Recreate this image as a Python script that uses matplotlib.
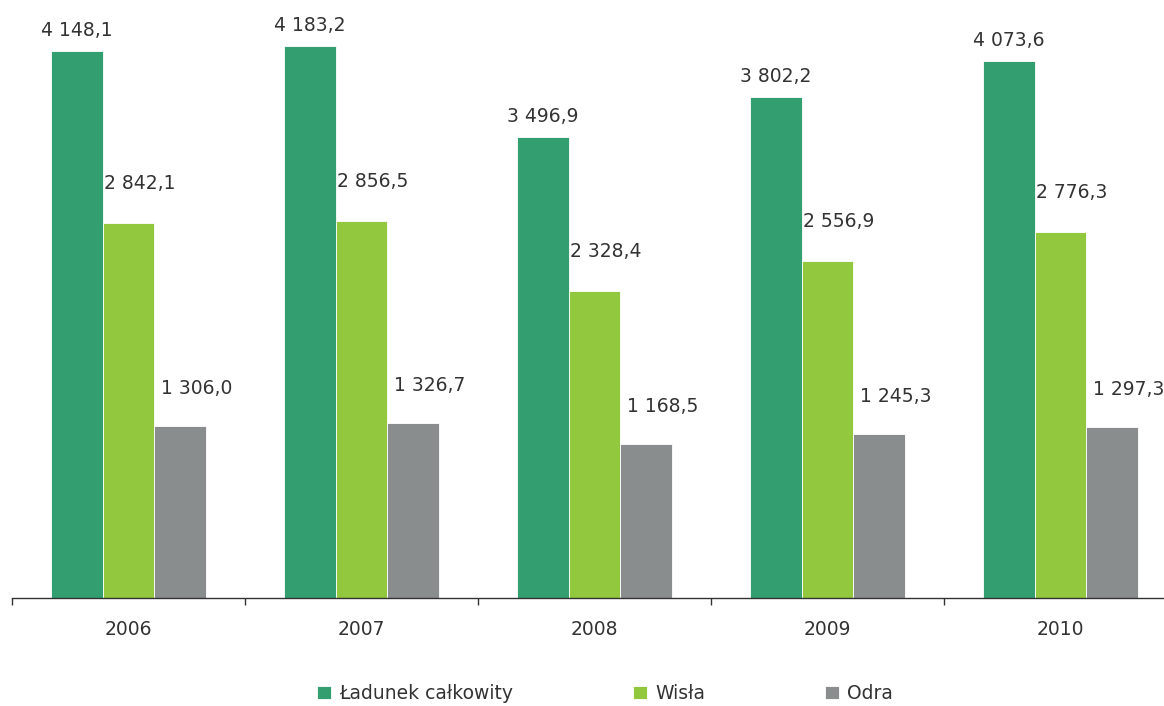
import numpy as np
import matplotlib
matplotlib.use("Agg")
import matplotlib.pyplot as plt

years = ["2006", "2007", "2008", "2009", "2010"]
series_names = ["Ładunek całkowity", "Wisła", "Odra"]
total = [4148.1, 4183.2, 3496.9, 3802.2, 4073.6]
wisla = [2842.1, 2856.5, 2328.4, 2556.9, 2776.3]
odra = [1306.0, 1326.7, 1168.5, 1245.3, 1297.3]

colors = ["#339e70", "#92c83e", "#8a8d8d"]
# label offsets in pixels (dx, dy) per series, as in the original layout
label_offsets = [(0, 11), (11, 30), (16, 28)]


def fmt(v):
    s = f"{v:,.1f}".replace(",", " ").replace(".", ",")
    return s


plt.rcParams["font.family"] = ["DejaVu Sans"]
fig = plt.figure(figsize=(11.64, 7.06), dpi=100)
ax = fig.add_axes([12 / 1164, 108 / 706, 1165 / 1164, 598 / 706])

x = np.arange(len(years))
width = 0.223
for i, (vals, color) in enumerate(zip([total, wisla, odra], colors)):
    pos = x + (i - 1) * width
    ax.bar(pos, vals, width=width, color=color, edgecolor="white",
           linewidth=0.6, label=series_names[i], zorder=2)
    dx, dy = label_offsets[i]
    for p, v in zip(pos, vals):
        ax.annotate(fmt(v), (p, v), xytext=(dx, dy), textcoords="offset pixels",
                    ha="center", va="bottom", fontsize=13.5, color="#333333")

ax.set_xlim(-0.5, 4.5)
ax.set_ylim(0, 598 / 547 * 4148.1)
for s in ["top", "right", "left"]:
    ax.spines[s].set_visible(False)
ax.spines["bottom"].set_color("#333333")
ax.spines["bottom"].set_linewidth(1.0)
ax.set_yticks([])
ax.set_xticks(x)
ax.set_xticklabels(years, fontsize=13.5, color="#333333")
ax.tick_params(axis="x", which="major", length=0, pad=16)
ax.set_xticks(np.arange(-0.5, 5, 1), minor=True)
ax.tick_params(axis="x", which="minor", length=5, width=1.0,
               direction="out", color="#333333")

fig.legend(loc="lower center", bbox_to_anchor=(0.52, -0.02), ncol=3, frameon=False,
           fontsize=13.5, handlelength=0.72, handleheight=0.72, handletextpad=0.45,
           columnspacing=6.4, labelcolor="#333333")

fig.savefig("out.png", dpi=100)
